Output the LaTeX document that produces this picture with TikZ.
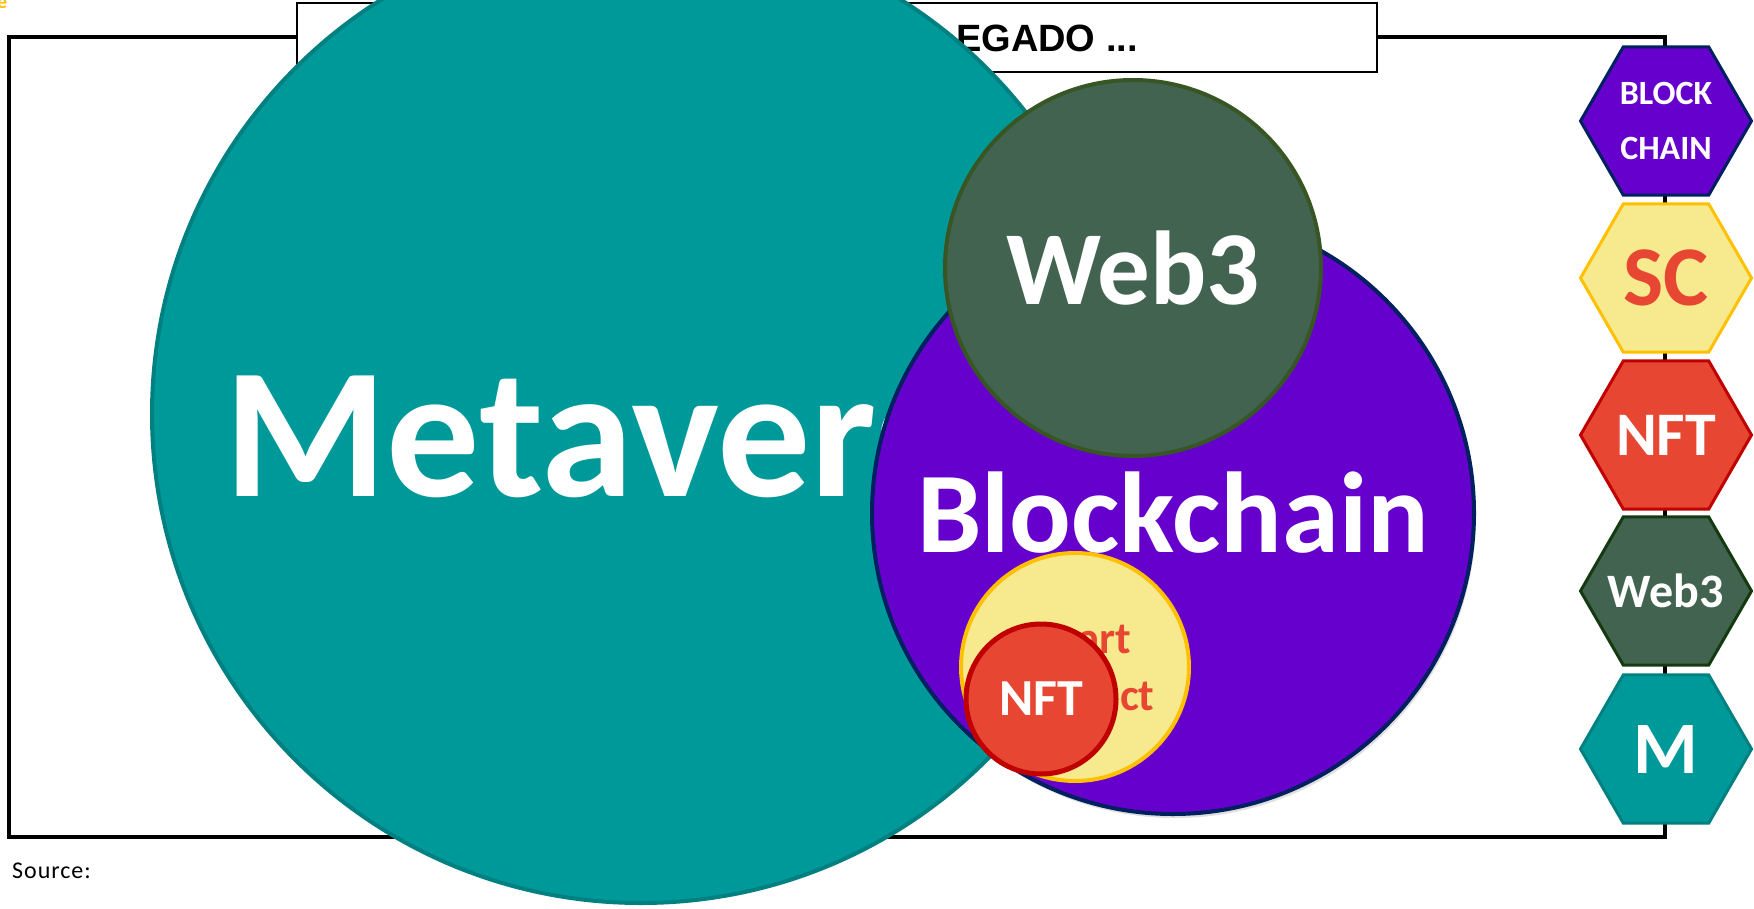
\documentclass[tikz,border=0pt]{standalone}
\usepackage{fontspec}
\setmainfont{Carlito}
\newfontfamily\arialfont{Liberation Sans}
\usetikzlibrary{shapes.geometric,shadows}

\definecolor{metateal}{HTML}{009999}
\definecolor{metaedge}{HTML}{008080}
\definecolor{chainpurple}{HTML}{6600CC}
\definecolor{chainnavy}{HTML}{002060}
\definecolor{webgreen}{HTML}{416350}
\definecolor{webedge}{HTML}{375623}
\definecolor{webhexedge}{HTML}{143A12}
\definecolor{scyellow}{HTML}{F7E98E}
\definecolor{scgold}{HTML}{FFC000}
\definecolor{nftred}{HTML}{E64632}
\definecolor{nftedge}{HTML}{C00000}

\begin{document}
\begin{tikzpicture}[x=1pt, y=-1pt,
  bubble/.style={circle, inner sep=0pt, line width=4pt, text=white, align=center},
  hexa/.style={regular polygon, regular polygon sides=6, minimum size=171pt,
    inner sep=0pt, line width=3pt},
  hextxt/.style={inner sep=0pt, text=white, align=center}]

  \useasboundingbox (0,0) rectangle (1754,908);

  % Frame and title
  \draw[line width=4.5pt] (9,37) rectangle (1665,837);
  \node[draw, line width=2pt, fill=white, minimum width=1080pt, minimum height=69pt,
    inner sep=0pt] (titlebox) at (837,37.5) {};
  \node[anchor=base west, inner sep=0pt, font=\arialfont\bfseries\fontsize{38}{42}\selectfont]
    (titletxt) at (956,51) {EGADO ...};

  % Metaverse
  \node[bubble, fill=metateal, draw=metaedge, minimum size=978pt] (meta) at (641,414) {};
  \node[anchor=base west, inner sep=0pt, text=white, font=\fontsize{186}{190}\selectfont\bfseries]
    (metalbl) at ([shift={(-417,82)}]meta.center) {Metaverse};

  % Blockchain with Web3, smart contract and NFT
  \node[bubble, fill=chainpurple, draw=chainnavy, minimum size=602pt,
    drop shadow={opacity=0.25, shadow xshift=2pt, shadow yshift=-4pt},
    font=\fontsize{115}{120}\selectfont\bfseries] (chain) at (1173,513) {Blockchain};
  \node[bubble, fill=webgreen, draw=webedge, minimum size=376pt,
    font=\fontsize{105}{110}\selectfont\bfseries] (web) at (1133,268) {Web3};
  \node[bubble, fill=scyellow, draw=scgold, minimum size=228pt, text=nftred,
    font=\fontsize{45}{57}\selectfont\bfseries] (sc) at (1075,667) {Smart\\Contract};
  \node[bubble, fill=nftred, draw=nftedge, line width=5pt, minimum size=150pt,
    font=\fontsize{52}{56}\selectfont\bfseries] (nft) at (1041,699) {NFT};

  % Legend hexagons
  \node[hexa, fill=chainpurple, draw=chainnavy] (hexbc) at (1666,121) {};
  \node[hexa, fill=scyellow, draw=scgold] (hexsc) at (1666,278) {};
  \node[hexa, fill=nftred, draw=nftedge] (hexnft) at (1666,435) {};
  \node[hexa, fill=webgreen, draw=webhexedge] (hexweb) at (1666,591) {};
  \node[hexa, fill=metateal, draw=metaedge] (hexm) at (1666,749) {};

  \node[hextxt, font=\fontsize{34}{55}\selectfont\bfseries] (bctxt) at (hexbc) {BLOCK\\CHAIN};
  \node[hextxt, text=nftred, font=\fontsize{85}{90}\selectfont\bfseries] (sctxt) at (hexsc) {SC};
  \node[hextxt, font=\fontsize{62}{66}\selectfont\bfseries] (nfttxt) at (hexnft) {NFT};
  \node[hextxt, font=\fontsize{48}{52}\selectfont\bfseries] (webtxt) at (hexweb) {Web3};
  \node[hextxt, font=\fontsize{74}{78}\selectfont\bfseries] (mtxt) at (hexm) {M};

  % Notes
  \node[anchor=base west, inner sep=0pt, font=\fontsize{24}{26}\selectfont\addfontfeature{LetterSpace=4}]
    (src) at (12,878) {Source:};
  \node[anchor=base east, inner sep=0pt, text=scgold, font=\fontsize{20}{22}\selectfont\bfseries]
    (corner) at (7.5,8) {e};

\end{tikzpicture}
\end{document}
